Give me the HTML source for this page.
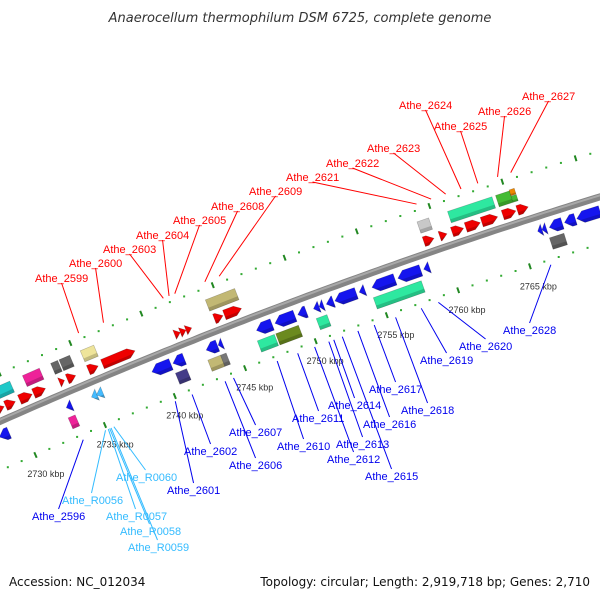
<!DOCTYPE html>
<html><head><meta charset="utf-8">
<style>
html,body{margin:0;padding:0;background:#fff;}
svg{display:block;font-family:"Liberation Sans",sans-serif;}
</style></head>
<body>
<svg id="chart" width="600" height="600" viewBox="0 0 600 600">
<rect width="600" height="600" fill="#fff"/>
<text x="300" y="22" text-anchor="middle" font-size="13" font-style="italic" fill="#333" style="font-family:'DejaVu Sans',sans-serif">Anaerocellum thermophilum DSM 6725, complete genome</text>
<g id="ticks"></g><g id="backbone"></g><g id="feats"></g><g id="leaders"></g><g id="labels"></g>
<text x="9" y="586" font-size="12" fill="#111" style="font-family:'DejaVu Sans',sans-serif">Accession: NC_012034</text>
<text x="590" y="586" text-anchor="end" font-size="12" fill="#111" style="font-family:'DejaVu Sans',sans-serif">Topology: circular; Length: 2,919,718 bp; Genes: 2,710</text>
</svg>
<script>
// ---- data ----
const featStart = [2728.4,2729.5,2730.5,2731.5,2733.35,2733.9,2735.4,2736.4,2741.5,2741.9,2742.3,2744.3,2745.0,2758.9,2760.0,2760.85,2761.8,2762.9,2764.35,2765.35,
  2728.3,2731.3,2733.3,2733.9,2735.4,2744.2,2758.9,2761.0,2764.3,2765.25,2765.25,
  2728.3,2733.1,2734.9,2735.25,2739.2,2740.7,2743.05,2743.9,2746.6,2747.9,2749.5,2750.6,2751.0,2751.5,2752.1,2753.8,2754.7,2756.5,2758.3,2766.2,2766.5,2767.0,2768.05,2768.9,
  2732.95,2740.6,2742.9,2743.8,2746.4,2747.7,2750.55,2754.55,2766.8];
const featEnd = [2729.4,2730.2,2731.4,2732.35,2733.7,2734.5,2736.1,2738.7,2741.9,2742.3,2742.7,2744.9,2746.2,2759.6,2760.5,2761.65,2762.8,2764.0,2765.25,2766.1,
  2730.4,2732.5,2733.8,2734.65,2736.35,2746.25,2759.7,2764.05,2765.25,2765.6,2765.6,
  2729.0,2733.5,2735.3,2735.7,2740.55,2741.5,2743.85,2744.2,2747.7,2749.3,2750.1,2751.0,2751.3,2752.0,2753.6,2754.2,2756.3,2758.1,2758.7,2766.5,2766.8,2767.9,2768.8,2770.5,
  2733.45,2741.4,2743.8,2744.2,2747.6,2749.3,2751.3,2757.9,2767.8];
const featTrack = ['f1','f1','f1','f1','f1','f1','f1','f1','f1','f1','f1','f1','f1','f1','f1','f1','f1','f1','f1','f1',
  'f2','f2','f2','f2','f2','f2','f2','f2','f2','f2lo','f2hi',
  'r1','r1','r1','r1','r1','r1','r1','r1','r1','r1','r1','r1','r1','r1','r1','r1','r1','r1','r1','r1','r1','r1','r1','r1',
  'r2','r2','r2','r2','r2','r2','r2','r2','r2'];
const featColor = ['#ee0000','#ee0000','#ee0000','#ee0000','#ee0000','#ee0000','#ee0000','#ee0000','#ee0000','#ee0000','#ee0000','#ee0000','#ee0000','#ee0000','#ee0000','#ee0000','#ee0000','#ee0000','#ee0000','#ee0000',
  '#1ec8c8','#ee2299','#666666','#666666','#eee49a','#c2b874','#c8c8c8','#2ee8a0','#44bb33','#44bb33','#ee8800',
  '#1515ee','#1515ee','#44bbff','#44bbff','#1515ee','#1515ee','#1515ee','#1515ee','#1515ee','#1515ee','#1515ee','#1515ee','#1515ee','#1515ee','#1515ee','#1515ee','#1515ee','#1515ee','#1515ee','#1515ee','#1515ee','#1515ee','#1515ee','#1515ee',
  '#ee2299','#443c88','#c2b874','#777777','#2ee8a0','#6b8a1f','#2ee8a0','#2ee8a0','#666666'];
const featShape = ['F','F','F','F','F','F','F','F','F','F','F','F','F','F','F','F','F','F','F','F',
  'B','B','B','B','B','B','B','B','B','B','B',
  'R','R','R','R','R','R','R','R','R','R','R','R','R','R','R','R','R','R','R','R','R','R','R','R',
  'B','B','B','B','B','B','B','B','B'];
const tickKbp = [2730,2735,2740,2745,2750,2755,2760,2765];
const tickLabels = ['2730 kbp','2735 kbp','2740 kbp','2745 kbp','2750 kbp','2755 kbp','2760 kbp','2765 kbp'];
const labelNames = ['Athe_2599','Athe_2600','Athe_2603','Athe_2604','Athe_2605','Athe_2608','Athe_2609','Athe_2621','Athe_2622','Athe_2623','Athe_2624','Athe_2625','Athe_2626','Athe_2627',
  'Athe_2596','Athe_R0056','Athe_R0057','Athe_R0058','Athe_R0059','Athe_R0060','Athe_2601','Athe_2602','Athe_2607','Athe_2606','Athe_2610','Athe_2611','Athe_2612','Athe_2613','Athe_2614','Athe_2616','Athe_2615','Athe_2617','Athe_2618','Athe_2619','Athe_2620','Athe_2628'];
const labelAnchor = [2735.75,2737.5,2741.7,2742.1,2742.5,2744.6,2745.6,2759.25,2760.25,2761.25,2762.3,2763.45,2764.8,2765.7,
  2733.3,2734.9,2735.1,2735.2,2735.3,2735.5,2739.9,2741.1,2744.05,2743.45,2747.15,2748.6,2749.8,2750.8,2751.15,2752.85,2751.75,2754.0,2755.5,2757.3,2758.5,2766.35];
const labelStrand = [1,1,1,1,1,1,1,1,1,1,1,1,1,1,
  -1,-2,-2,-2,-2,-2,-1,-1,-1,-1,-1,-1,-1,-1,-1,-1,-1,-1,-1,-1,-1,-1];
// label text layout (left x, center y)
const labelX = [35,69,103,136,173,211,249,286,326,367,399,434,478,522,
  32,62,106,120,128,116,167,184,229,229,277,292,327,336,328,363,365,369,401,420,459,503];
const labelY = [278,263,249,235,220,206,191,177,163,148,105,126,111,96,
  516,500,516,531,547,477,490,451,432,465,446,418,459,444,405,424,476,389,410,360,346,330];

// ---- geometry ----
const NS='http://www.w3.org/2000/svg';
const R=5400, P0=[300,299], T0=[0.937,-0.350], U0=[-0.350,-0.937], PX=15.25, K0=2750;
const C=[P0[0]-R*U0[0], P0[1]-R*U0[1]];
function pos(k,off){const phi=(k-K0)*PX/R, r=R+off, c=Math.cos(phi), s=Math.sin(phi);
  return [C[0]+r*(U0[0]*c+T0[0]*s), C[1]+r*(U0[1]*c+T0[1]*s)];}
const trackLo={f1:7,f2:21,f2lo:21,f2hi:28,r1:-20,r2:-36};
const trackHi={f1:17,f2:33,f2lo:27.5,f2hi:34,r1:-8,r2:-24};
function mk(tag,parent){const e=document.createElementNS(NS,tag);document.getElementById(parent).appendChild(e);return e;}
function pts(a){return a.map(p=>p[0].toFixed(1)+','+p[1].toFixed(1)).join(' ');}

// ticks (dots every kbp, dash every 5)
for(let k=2724;k<=2773;k++){
  for(const off of [44,-45]){
    if(k%5===0){
      const a=pos(k,off-3), b=pos(k,off+3);
      const l=mk('line','ticks');
      
      
      l.setAttribute('x1',a[0]);l.setAttribute('y1',a[1]);l.setAttribute('x2',b[0]);l.setAttribute('y2',b[1]);
      l.setAttribute('stroke','#228822');l.setAttribute('stroke-width','2');
    } else {
      const p=pos(k,off);
      const r=mk('rect','ticks');
      
      
      r.setAttribute('x',p[0]-1);r.setAttribute('y',p[1]-1);r.setAttribute('width',2);r.setAttribute('height',2);r.setAttribute('fill','#33aa33');
    }
  }
}
tickKbp.forEach((k,i)=>{
  const p=pos(k,-66);
  const t=mk('text','ticks');
  
  
  t.setAttribute('x',p[0]+2);t.setAttribute('y',p[1]+3);t.setAttribute('text-anchor','middle');
  t.setAttribute('font-size','9');t.setAttribute('fill','#333');t.textContent=tickLabels[i];
});

// backbone
{const a=[];for(let k=2720;k<=2776;k+=0.5){a.push(pos(k,0));}
 const pl=mk('polyline','backbone');
 
 
 pl.setAttribute('points',pts(a));pl.setAttribute('fill','none');pl.setAttribute('stroke','#858585');pl.setAttribute('stroke-width','7');
 const hl=[];for(let k=2720;k<=2776;k+=0.5){hl.push(pos(k,1.5));}
 const p2=mk('polyline','backbone');
 
 
 p2.setAttribute('points',pts(hl));p2.setAttribute('fill','none');p2.setAttribute('stroke','#a8a8a8');p2.setAttribute('stroke-width','2');
}

// features
featStart.forEach((s,i)=>{
  const e=featEnd[i], lo=trackLo[featTrack[i]], hi=trackHi[featTrack[i]], mid=(lo+hi)/2;
  const h=Math.min(0.45,e-s);
  let poly;
  if(featShape[i]==='F') poly=[pos(s,lo),pos(e-h,lo),pos(e,mid),pos(e-h,hi),pos(s,hi)];
  else if(featShape[i]==='R') poly=[pos(e,lo),pos(s+h,lo),pos(s,mid),pos(s+h,hi),pos(e,hi)];
  else poly=[pos(s,lo),pos(e,lo),pos(e,hi),pos(s,hi)];
  const g=mk('polygon','feats');
  
  
  g.setAttribute('points',pts(poly));g.setAttribute('fill',featColor[i]);
  g.setAttribute('stroke','rgba(0,0,0,0.25)');g.setAttribute('stroke-width','0.6');
  const lo2=lo, hi2=lo+(hi-lo)*0.3;
  let band;
  if(featShape[i]==='B') band=[pos(s,lo2),pos(e,lo2),pos(e,hi2),pos(s,hi2)];
  else if(featShape[i]==='F') band=[pos(s,lo2),pos(e-h,lo2),pos(e-h*0.3,hi2),pos(s,hi2)];
  else band=[pos(e,lo2),pos(s+h,lo2),pos(s+h*0.3,hi2),pos(e,hi2)];
  const b=mk('polygon','feats');
  
  
  b.setAttribute('points',pts(band));b.setAttribute('fill','rgba(0,0,0,0.18)');
});

// labels + leaders
labelNames.forEach((n,i)=>{
  const st=labelStrand[i];
  const col= st===1?'#ff0000':(st===-1?'#0000ee':'#33bbff');
  const w=n.length*5.9;
  const cx=labelX[i]+w/2, cy=labelY[i];
  const end=pos(labelAnchor[i], st===1?50:-50);
  const sy= st===1? cy+5 : cy-7;
  const l=mk('line','leaders');
  
  
  l.setAttribute('x1',cx);l.setAttribute('y1',sy);l.setAttribute('x2',end[0]);l.setAttribute('y2',end[1]);
  l.setAttribute('stroke',col);l.setAttribute('stroke-width','1');
  const t=mk('text','labels');
  
  
  t.setAttribute('x',labelX[i]);t.setAttribute('y',cy+4);t.setAttribute('font-size','11');t.setAttribute('fill',col);
  t.textContent=n;
});
</script>
</body></html>
